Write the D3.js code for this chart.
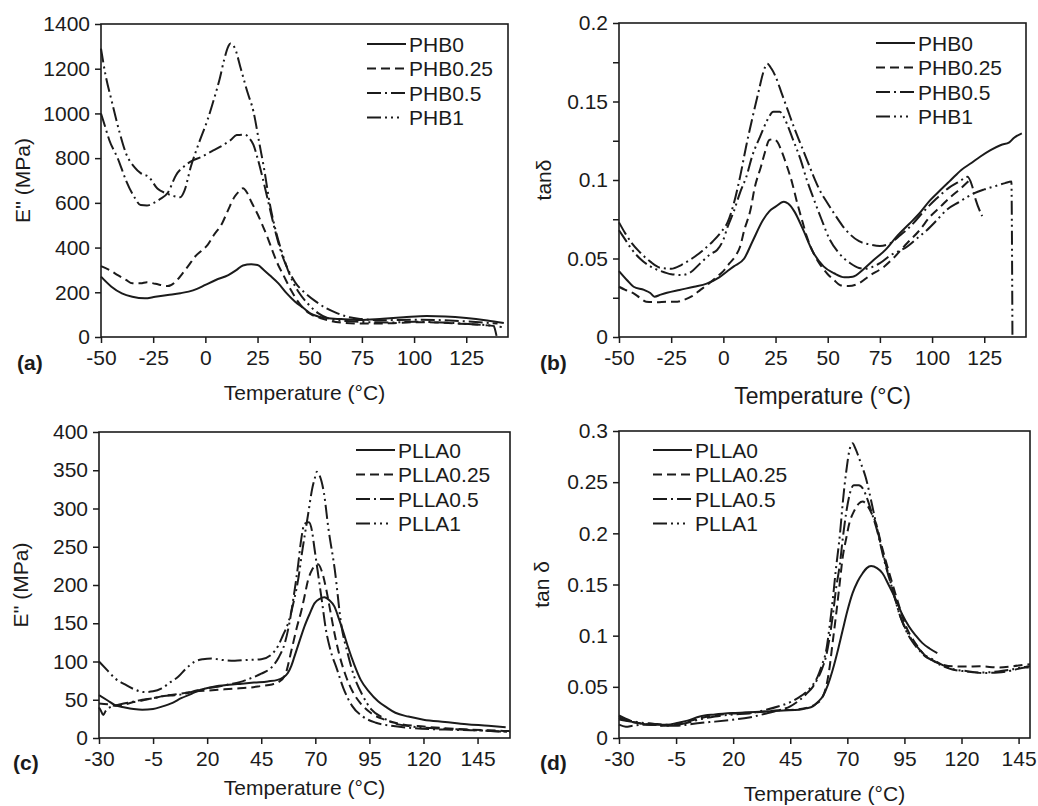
<!DOCTYPE html>
<html>
<head>
<meta charset="utf-8">
<script src="https://cdn.jsdelivr.net/npm/d3@7"></script>
<style>
  body { margin: 0; background: #fff; }
  svg { display: block; font-family: "Liberation Sans", Arial, sans-serif; }
</style>
</head>
<body>
<div id="chart"></div>
<script>
// series names for the legends
const phbNames = ["PHB0", "PHB0.25", "PHB0.5", "PHB1"];
const pllaNames = ["PLLA0", "PLLA0.25", "PLLA0.5", "PLLA1"];

// tick labels
const xTicksPHB = [-50, -25, 0, 25, 50, 75, 100, 125];
const xTicksPLLA = [-30, -5, 20, 45, 70, 95, 120, 145];
const yTicksA = [0, 200, 400, 600, 800, 1000, 1200, 1400];
const yTicksB = [0, 0.05, 0.1, 0.15, 0.2];
const yMinorB = [0.025, 0.075, 0.125, 0.175];
const yTicksC = [0, 50, 100, 150, 200, 250, 300, 350, 400];
const yTicksD = [0, 0.05, 0.1, 0.15, 0.2, 0.25, 0.3];

// (a) E'' of PHB, [temperature, MPa]
const phb0Loss = [[-50,270],[-45,225],[-40,195],[-35,180],[-29,173],[-24,180],[-18,188],[-12,196],[-8,203],[-4,215],[0,233],[5,255],[11,277],[15,300],[18,320],[22,325],[25,322],[28,300],[31,275],[35,240],[39,195],[43,158],[47,130],[50,107],[54,92],[58,85],[65,80],[74,76],[85,82],[95,88],[106,94],[115,92],[125,85],[135,74],[143,63]];
const phb025Loss = [[-50,317],[-46,300],[-42,277],[-38,255],[-35,240],[-31,240],[-28,245],[-24,238],[-18,228],[-14,250],[-11,284],[-8,320],[-5,359],[-2,385],[1,411],[4,455],[8,508],[11,570],[14,627],[16,650],[18,665],[20,645],[22,605],[25,550],[27,508],[30,440],[32,389],[35,320],[37,284],[41,210],[45,150],[50,105],[55,85],[60,72],[65,65],[75,60],[90,62],[100,66],[110,65],[125,58],[135,52],[142,45]];
const phb05Loss = [[-50,1000],[-48,940],[-46,880],[-42,800],[-38,700],[-34,625],[-31,590],[-28,588],[-25,598],[-22,615],[-18,645],[-14,725],[-10,765],[-6,790],[-2,805],[3,830],[7,850],[12,880],[15,903],[19,905],[21,890],[23,860],[25,800],[28,690],[31,570],[34,455],[37,360],[40,295],[43,245],[48,195],[53,158],[58,128],[63,107],[69,88],[75,80],[85,75],[100,77],[110,76],[125,70],[140,60]];
const phb1Loss = [[-50,1290],[-48,1180],[-45,1060],[-41,912],[-38,821],[-34,760],[-31,733],[-27,715],[-23,664],[-18.5,642],[-15,630],[-12,625],[-10,655],[-7,760],[-3,870],[1,970],[4,1060],[7,1160],[9,1240],[11,1300],[12,1313],[14,1295],[17,1200],[20,1100],[23,1010],[26,860],[28,760],[31,590],[34,465],[37,370],[39,313],[42,245],[45,197],[49,150],[54,107],[61,78],[70,70],[80,66],[90,65],[100,68],[110,66],[120,62],[130,56],[138,50],[139.5,5]];

// (b) tan delta of PHB
const phb0Tan = [[-50,0.042],[-46,0.036],[-43,0.032],[-38,0.030],[-35,0.028],[-33,0.0257],[-30,0.027],[-27,0.0282],[-21,0.030],[-14,0.032],[-8,0.034],[-2,0.038],[2,0.042],[5,0.045],[10,0.050],[14,0.061],[19,0.0745],[22,0.080],[25,0.083],[29,0.0862],[31,0.085],[34,0.080],[38,0.069],[43,0.054],[48,0.045],[53,0.0406],[58,0.038],[62,0.0384],[67,0.043],[72,0.049],[78,0.056],[83,0.0639],[89,0.072],[94,0.0788],[99,0.087],[104,0.0936],[109,0.100],[114,0.1064],[119,0.111],[123,0.1148],[128,0.119],[133,0.1223],[137,0.124],[139,0.1266],[143,0.1297]];
const phb025Tan = [[-50,0.032],[-47,0.030],[-43,0.0278],[-40,0.025],[-37,0.0225],[-32,0.0222],[-27,0.0225],[-22,0.0225],[-19,0.0236],[-15,0.026],[-11,0.030],[-7,0.034],[-3,0.0384],[0,0.042],[3,0.047],[6,0.052],[8,0.0575],[10,0.068],[13,0.081],[15,0.095],[18,0.1085],[20,0.118],[22,0.1255],[24,0.126],[26,0.124],[28,0.118],[30,0.1106],[33,0.098],[35,0.0873],[38,0.073],[40,0.0639],[43,0.054],[46,0.0469],[50,0.040],[53,0.0363],[56,0.033],[60,0.0325],[65,0.0342],[70,0.039],[77,0.0448],[82,0.051],[88,0.0597],[94,0.068],[99,0.0766],[104,0.083],[109,0.0894],[114,0.095],[118,0.100]];
const phb05Tan = [[-50,0.073],[-47,0.066],[-44,0.060],[-40,0.054],[-35,0.048],[-30,0.044],[-25,0.0435],[-20,0.046],[-15,0.050],[-10,0.055],[-5,0.061],[-1,0.067],[2,0.073],[5,0.085],[8,0.102],[11,0.122],[14,0.140],[17,0.157],[19,0.168],[21,0.174],[23,0.171],[25,0.166],[28,0.155],[31,0.144],[34,0.133],[37,0.123],[40,0.113],[43,0.103],[46,0.094],[50,0.085],[53,0.0788],[57,0.071],[61,0.065],[65,0.061],[70,0.059],[75,0.058],[80,0.0597],[84,0.064],[90,0.071],[96,0.080],[102,0.088],[108,0.095],[113,0.099],[117,0.102],[119,0.097],[121,0.087],[124,0.077]];
const phb1Tan = [[-50,0.068],[-47,0.062],[-44,0.056],[-40,0.050],[-35,0.045],[-30,0.042],[-25,0.040],[-20,0.0395],[-16,0.041],[-11,0.047],[-6,0.053],[-3,0.0554],[0,0.062],[2,0.070],[5,0.080],[8,0.092],[11,0.102],[14,0.116],[17.6,0.1276],[21,0.138],[24,0.1435],[27,0.1435],[29,0.140],[30.4,0.136],[33,0.127],[37,0.113],[40,0.100],[43,0.089],[47,0.075],[51,0.062],[55,0.054],[60.8,0.047],[65,0.044],[68,0.0435],[72,0.045],[75,0.047],[80,0.052],[88,0.0575],[93,0.063],[97.5,0.068],[102,0.074],[107,0.081],[113,0.086],[120,0.0915],[125,0.094],[130,0.096],[135,0.098],[138,0.099],[138.5,0.0]];

// (c) E'' of PLLA
const plla0Loss = [[-30,56],[-26,49],[-22.6,43],[-18,40],[-14,38],[-10,37],[-5,38],[-1,41],[4,46],[8,52],[13,58],[17,63],[23,67],[30,69.5],[36,71],[42,72.5],[48,74],[52.6,76],[55,79],[57.3,85],[59,95],[60.3,106],[62.5,125],[65,146],[67.5,163],[69.6,176],[72,182],[74.2,184],[76.5,180],[78.8,172],[81,155],[83,138],[85,120],[88,96],[91,76],[95,60],[99,48],[103,40],[107,33],[113,28],[120,24],[130,21],[140,18],[150,16],[158,14]];
const plla025Loss = [[-30,45],[-26,44],[-22,42],[-18,44],[-14,47],[-10,49],[-5,52],[0,55],[5,57],[10,59],[15,61],[20,62],[25,63],[30,64],[35,65],[40,66],[45,68],[50,70],[53,73],[56,82],[59,115],[61.5,145],[63.6,167],[65,185],[66.6,206],[68.5,220],[70,225],[71.3,227],[73,218],[75,195],[77,165],[79,135],[81,110],[84,82],[87,62],[91,45],[96,32],[102,24],[110,18],[120,15],[135,12],[150,10],[160,9]];
const plla05Loss = [[-30,40],[-29,35],[-28,30],[-27,35],[-25,40],[-20,44],[-15,47],[-10,50],[-5,52],[0,55],[5,56],[10,58],[15,62],[20,65],[25,67],[30,70],[35,73],[40,78],[45,84],[50,93],[53,105],[56,125],[58,150],[60,185],[62,225],[63.5,260],[65,280],[67,282],[68.5,270],[69.5,250],[71,220],[73,180],[75,140],[77,115],[80,90],[83,65],[87,42],[92,28],[98,20],[105,16],[115,13],[130,11],[145,10],[160,8]];
const plla1Loss = [[-30,100],[-26,88],[-22.6,78],[-18,70],[-14,64],[-9,60],[-5,61],[-1,65],[3,73],[6.6,80],[10,90],[14.3,100],[18,103],[22,104],[27,102],[32.8,101],[38,102],[45,103],[49.7,109],[52.7,120],[55,134],[57.4,150],[60,178],[62,206],[64,245],[66.7,293],[68.5,325],[69.8,340],[70.7,348],[72,343],[74,320],[76,275],[79,220],[82,148],[85,110],[88,80],[92,55],[96,37],[101,27],[107,19],[115,15],[130,12],[145,10],[160,8]];

// (d) tan delta of PLLA
const plla0Tan = [[-30,0.018],[-25,0.016],[-20,0.014],[-15,0.013],[-9,0.013],[-4,0.015],[0,0.017],[5.4,0.0211],[12,0.023],[19.9,0.0244],[27,0.0252],[34.5,0.026],[42,0.0268],[49,0.0276],[52,0.029],[54.9,0.0309],[57,0.035],[59.2,0.0406],[61.5,0.052],[63.6,0.0667],[66,0.087],[68,0.1057],[70,0.124],[72.3,0.1415],[74.5,0.153],[76.7,0.161],[78.5,0.166],[80.4,0.168],[83,0.166],[85.4,0.161],[88,0.150],[91.3,0.135],[94,0.121],[97,0.109],[100,0.100],[102.9,0.0927],[106,0.0875],[109.4,0.083]];
const plla025Tan = [[-30,0.020],[-25,0.016],[-20,0.014],[-15,0.013],[-10,0.012],[-5,0.013],[0,0.016],[5,0.019],[12,0.022],[20,0.024],[30,0.025],[40,0.027],[48,0.028],[53,0.030],[56,0.033],[59.2,0.040],[60.7,0.05],[62.1,0.067],[63.5,0.092],[65,0.119],[66.5,0.148],[68,0.177],[69.5,0.195],[70.9,0.21],[73,0.222],[75,0.229],[76.7,0.231],[78.5,0.228],[80.5,0.22],[82.5,0.21],[85,0.188],[88.4,0.161],[92,0.134],[95.7,0.109],[100,0.092],[104.4,0.080],[108,0.075],[111.7,0.0716],[116,0.070],[121.9,0.0698],[128,0.070],[136.4,0.069],[142,0.070],[148,0.0716],[150,0.072]];
const plla05Tan = [[-30,0.013],[-27,0.011],[-24,0.012],[-20,0.013],[-15,0.013],[-10,0.012],[-5,0.012],[0,0.013],[5.4,0.0147],[12,0.016],[19.9,0.0179],[27,0.020],[34.5,0.024],[40,0.027],[45,0.031],[49,0.037],[52,0.043],[54.9,0.05],[57,0.058],[59,0.068],[60.7,0.08],[62,0.095],[63.6,0.119],[65,0.145],[66.8,0.171],[68,0.195],[69.5,0.22],[71,0.238],[72.8,0.247],[75,0.247],[77,0.243],[79,0.232],[81,0.218],[83,0.203],[86,0.175],[89.8,0.145],[93,0.12],[95.7,0.105],[98.5,0.094],[101.4,0.086],[104,0.080],[107.2,0.076],[112,0.070],[116,0.067],[122,0.065],[129,0.0635],[136,0.064],[142,0.066],[148,0.069],[150,0.069]];
const plla1Tan = [[-30,0.022],[-25,0.017],[-20,0.015],[-15,0.014],[-10,0.013],[-5,0.013],[0,0.015],[5,0.018],[12,0.021],[20,0.023],[27,0.024],[34.5,0.0276],[40,0.031],[45,0.035],[49,0.040],[52,0.045],[54.9,0.052],[57,0.06],[59,0.072],[60.7,0.085],[62,0.105],[63.6,0.135],[65,0.165],[66.8,0.2],[68,0.23],[69.5,0.26],[71,0.282],[72.3,0.288],[73.5,0.283],[76,0.268],[78,0.255],[81,0.226],[83,0.205],[86,0.177],[89.8,0.145],[93,0.12],[95.7,0.106],[98.5,0.095],[101.4,0.087],[104,0.081],[107.2,0.077],[112,0.071],[116,0.0675],[122,0.0655],[129,0.064],[136,0.065],[142,0.067],[148,0.0695],[150,0.07]];

// line styles for the four series: solid, dashed, dash-dot, dash-dot-dot
const dashes = [null, "9,5", "14,4,2,4", "14,4,2,4,2,4"];
const ink = "#1b1b1b";

const width = 1038, height = 806;
const svg = d3.select("#chart").append("svg")
    .attr("width", width)
    .attr("height", height)
    .attr("viewBox", [0, 0, width, height]);

const fmt = d => String(+d.toFixed(3));

// layout of each panel
const panels = [
  {label: "(a)", box: [101, 24, 508, 337], xDom: [-50, 145], yDom: [0, 1400],
   xTicks: xTicksPHB, yTicks: yTicksA, yMinor: [], names: phbNames,
   series: [phb0Loss, phb025Loss, phb05Loss, phb1Loss], yTitle: "E'' (MPa)",
   yTitleX: 30, xTitleY: 400, xTitleSize: 21, legend: [367, 44], labelPos: [17, 370]},
  {label: "(b)", box: [619, 23, 1026, 337], xDom: [-50, 145], yDom: [0, 0.2],
   xTicks: xTicksPHB, yTicks: yTicksB, yMinor: yMinorB, names: phbNames,
   series: [phb0Tan, phb025Tan, phb05Tan, phb1Tan], yTitle: "tanδ",
   yTitleX: 551, xTitleY: 404, xTitleSize: 23, legend: [876, 43], labelPos: [540, 370]},
  {label: "(c)", box: [99, 432, 510, 738], xDom: [-30, 160], yDom: [0, 400],
   xTicks: xTicksPLLA, yTicks: yTicksC, yMinor: [], names: pllaNames,
   series: [plla0Loss, plla025Loss, plla05Loss, plla1Loss], yTitle: "E'' (MPa)",
   yTitleX: 28, xTitleY: 795, xTitleSize: 21, legend: [356, 450], labelPos: [13, 770]},
  {label: "(d)", box: [619, 431, 1030, 738], xDom: [-30, 150], yDom: [0, 0.3],
   xTicks: xTicksPLLA, yTicks: yTicksD, yMinor: [], names: pllaNames,
   series: [plla0Tan, plla025Tan, plla05Tan, plla1Tan], yTitle: "tan δ",
   yTitleX: 549, xTitleY: 801, xTitleSize: 21, legend: [653, 450], labelPos: [540, 770]}
];

panels.forEach(p => {
  const [l, t, r, b] = p.box;
  const x = d3.scaleLinear().domain(p.xDom).range([l, r]);
  const y = d3.scaleLinear().domain(p.yDom).range([b, t]);
  const g = svg.append("g");

  // x axis
  g.append("g")
    .attr("transform", `translate(0,${b})`)
    .call(d3.axisBottom(x).tickValues(p.xTicks).tickSize(6).tickSizeOuter(0).tickPadding(7).tickFormat(d => d))
    .call(a => a.select(".domain").remove())
    .call(a => a.selectAll("line").attr("stroke", ink).attr("stroke-width", 1.5))
    .call(a => a.selectAll("text").attr("fill", ink).attr("font-size", 21).attr("font-family", null));

  // y axis
  g.append("g")
    .attr("transform", `translate(${l},0)`)
    .call(d3.axisLeft(y).tickValues(p.yTicks).tickSize(6).tickSizeOuter(0).tickPadding(5).tickFormat(fmt))
    .call(a => a.select(".domain").remove())
    .call(a => a.selectAll("line").attr("stroke", ink).attr("stroke-width", 1.5))
    .call(a => a.selectAll("text").attr("fill", ink).attr("font-size", 21).attr("font-family", null));

  if (p.yMinor.length) {
    g.append("g")
      .attr("transform", `translate(${l},0)`)
      .call(d3.axisLeft(y).tickValues(p.yMinor).tickSize(6).tickFormat(""))
      .call(a => a.select(".domain").remove())
      .call(a => a.selectAll("line").attr("stroke", ink).attr("stroke-width", 1.5));
  }

  // frame
  g.append("rect")
    .attr("x", l).attr("y", t)
    .attr("width", r - l).attr("height", b - t)
    .attr("fill", "none").attr("stroke", ink).attr("stroke-width", 1.6);

  // curves
  const line = d3.line()
    .x(d => x(d[0]))
    .y(d => y(d[1]))
    .curve(d3.curveMonotoneX);

  g.append("g").selectAll("path")
    .data(p.series)
    .join("path")
    .attr("d", line)
    .attr("fill", "none")
    .attr("stroke", ink)
    .attr("stroke-width", 2)
    .attr("stroke-dasharray", (d, i) => dashes[i]);

  // legend
  const [lx, ly] = p.legend;
  const leg = g.append("g").selectAll("g")
    .data(p.names)
    .join("g")
    .attr("transform", (d, i) => `translate(${lx},${ly + i * 24.5})`);
  leg.append("line")
    .attr("x1", 0).attr("x2", (d, i) => i === 3 ? 32 : 39)
    .attr("stroke", ink).attr("stroke-width", 2)
    .attr("stroke-dasharray", (d, i) => dashes[i]);
  leg.append("text")
    .attr("x", 42).attr("dy", "0.36em")
    .attr("font-size", 21).attr("fill", ink)
    .text(d => d);

  // titles
  g.append("text")
    .attr("x", (l + r) / 2)
    .attr("y", p.xTitleY)
    .attr("text-anchor", "middle")
    .attr("font-size", p.xTitleSize)
    .attr("fill", ink)
    .text("Temperature (°C)");

  g.append("text")
    .attr("transform", `translate(${p.yTitleX},${(t + b) / 2}) rotate(-90)`)
    .attr("text-anchor", "middle")
    .attr("font-size", 21)
    .attr("fill", ink)
    .text(p.yTitle);

  g.append("text")
    .attr("x", p.labelPos[0]).attr("y", p.labelPos[1])
    .attr("font-size", 21).attr("font-weight", "bold")
    .attr("fill", ink)
    .text(p.label);
});
</script>
</body>
</html>
